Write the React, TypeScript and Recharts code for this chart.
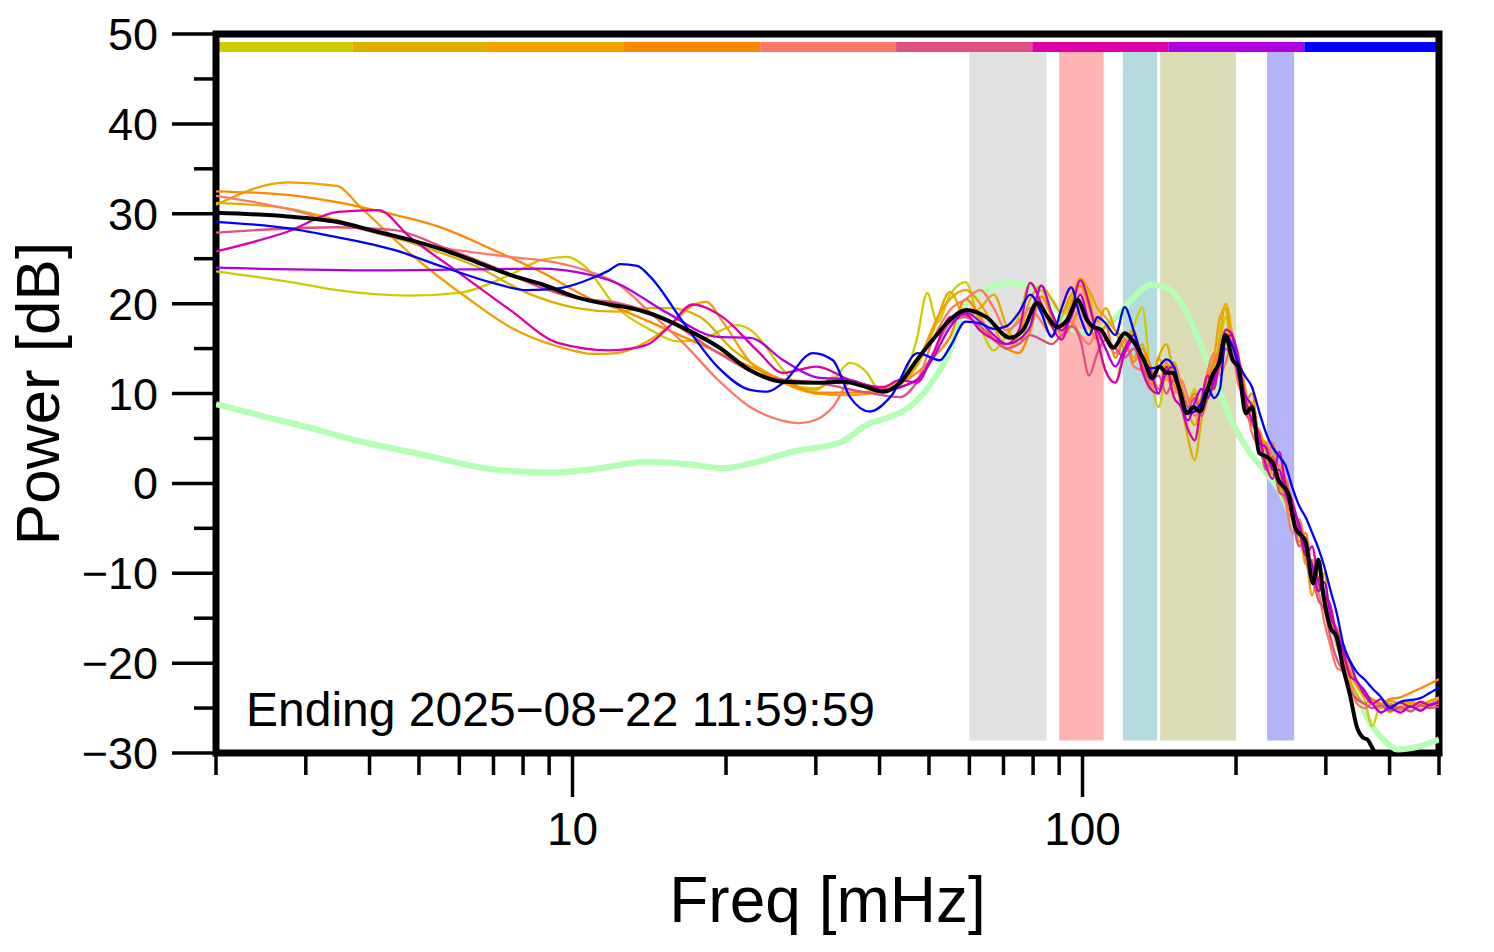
import React from "react";
import { LineChart, Line, XAxis, YAxis, ReferenceArea } from "recharts";

const FONT = '"Liberation Sans", Arial, Helvetica, sans-serif';

// axis ticks
const xTicks = [2, 3, 4, 5, 6, 7, 8, 9, 10, 20, 30, 40, 50, 60, 70, 80, 90, 100, 200, 300, 400, 500];
const xLabelled = [10, 100];
const yTicks = [-30, -25, -20, -15, -10, -5, 0, 5, 10, 15, 20, 25, 30, 35, 40, 45, 50];

// day colour strip along the top
const stripColors = ["#cccc00", "#ddb000", "#f0a000", "#ff8800", "#ff7766", "#dd5080", "#dd00aa", "#b000dd", "#0000ff"];
const stripEdges = [2, 3.7, 6.83, 12.62, 23.33, 43.1, 79.7, 147.3, 272.2, 500];

// shaded frequency bands (mHz)
const bandRanges = [[60, 85], [90, 110], [120, 140], [142, 200], [230, 260]];
const bandColors = ["#e1e1e1", "#ffb4b4", "#b4dcdf", "#dbdbb5", "#b4b4f9"];

// shared frequency grid for the high-frequency part of the daily curves
const hiFreq = [
  55, 59, 63, 67, 71, 75, 79, 83, 87, 91,
  95, 99, 103, 107, 111, 116, 121, 126, 131, 136,
  141, 146, 151, 156, 161, 166, 171, 176, 181, 186,
  191, 196, 202, 208, 215, 222, 229, 236, 243, 250,
  258, 266, 274, 282, 290, 298, 306, 315, 325, 335,
  345, 357, 370, 385, 400, 420, 440, 460, 480, 500,
];

// [freq, dB] below 55 mHz, then values on hiFreq
const oliveLow = [[2, 23.6], [2.8, 22.4], [3.45, 21.5], [4.8, 20.9], [6, 21.2], [7.54, 23.2], [8.76, 24.9], [9.77, 25.2], [10.5, 24.3], [12.2, 19.6], [14.2, 17.1], [16.1, 15.8], [17.8, 16], [21, 17.6], [22.3, 17.1], [25.9, 12.6], [27.9, 10.7], [30.1, 10.6], [32.4, 11.5], [35, 13.4], [37.8, 12.3], [39.6, 10.7], [43.9, 11.5], [47.3, 16], [49.6, 21.2], [51.9, 17.9]];
const oliveHigh = [
  21, 22.4, 17.5, 14.8, 16.5, 18.5, 22.3, 20, 17.5, 18.5,
  20.5, 22.6, 21, 16, 12.5, 11.2, 15.5, 17.5, 19.6, 12,
  8.5, 12.5, 13.5, 11, 9, 10.5, 8, 11.5, 13, 16,
  18.5, 15, 12, 9.5, 9, 5, 4, 1.8, 0.5, -1.5,
  -3, -5, -8, -9, -11.5, -12, -15, -16.5, -19.5, -21,
  -22.5, -24, -27, -24.5, -25.5, -24.8, -25.3, -24.5, -24.8, -24.2,
];

const goldLow = [[2, 31.2], [2.76, 30.6], [3.45, 29.3], [4.8, 26.8], [6.5, 24.1], [8.14, 21.2], [10.2, 19.5], [12.2, 19.1], [14.2, 19.5], [15.5, 19.5], [17.8, 18.5], [20.6, 14.9], [24.1, 12.3], [27.9, 10.6], [30.1, 10.4], [32.4, 11.8], [35, 11.5], [40.6, 10.6], [43.9, 11.2], [47.3, 13], [51, 17]];
const goldHigh = [
  21.3, 18.5, 19.5, 21, 17.5, 15.5, 19, 21.5, 19, 17,
  20, 22.8, 21.5, 19.5, 18.5, 17, 16, 14, 15.5, 11,
  14, 15.5, 12, 9, 5, 2.6, 7, 10, 11, 16.5,
  20, 17, 12.5, 10, 7, 5.5, 2.5, 3.5, 0, -2,
  -2.5, -5, -9, -8.5, -12, -10, -15.5, -17, -19, -21.5,
  -22, -23.5, -24, -25, -24.5, -25, -24.5, -24.8, -24.3, -24,
];

const orangeLow = [[2, 31], [2.77, 33.5], [3.45, 33.1], [3.83, 30.8], [4.8, 25.6], [6.3, 20.4], [7.54, 17.4], [9.4, 15.2], [11, 14.4], [12.2, 14.5], [13.5, 15.3], [15.5, 17.5], [17.2, 19.8], [18.3, 20.2], [19.7, 18], [22.3, 13.5], [25.9, 11.2], [30, 10], [35, 9.8], [40, 10.2], [44, 11], [48, 14], [52, 18.5]];
const orangeHigh = [
  20.5, 21.5, 20, 17.5, 15, 16.5, 20.5, 22, 20.5, 19,
  21, 22, 19.5, 18, 19.5, 17, 15, 17, 13.5, 10.5,
  14, 11.5, 13.5, 11, 8, 6.5, 9.5, 12, 14, 18.5,
  19.5, 15, 14, 11, 6.5, 6, 3.5, 1, 2, -1,
  -4, -4, -7.5, -12.5, -9.5, -13.5, -14.5, -18, -19.5, -22,
  -23.5, -24.5, -24, -25, -24.2, -24.5, -24.3, -24.6, -24.2, -23.8,
];

const darkOrangeLow = [[2, 32.5], [2.76, 32.1], [3.45, 31.3], [4.24, 30.2], [5.57, 28.4], [6.98, 26], [8.76, 23.4], [11, 20.4], [12.2, 19.5], [16.5, 16.3], [22.3, 13], [25.9, 11.5], [30.1, 10.1], [35, 10.1], [40.6, 10.4], [47.3, 12.3], [51, 14]];
const darkOrangeHigh = [
  16.3, 20.5, 18.5, 16, 15, 14.5, 17, 20.8, 18.5, 16.5,
  17.5, 19.5, 17.5, 16, 17.5, 14, 16, 13.5, 15, 13,
  10.5, 13.5, 11, 9.5, 9, 10, 8.5, 11, 13.5, 15,
  17, 16, 14.5, 9, 10, 5, 4.5, 2.5, -0.5, 0.5,
  -3, -6.5, -5.5, -10, -10.5, -12, -15, -16, -18.5, -21,
  -22.5, -23.5, -24, -24.5, -24, -23.8, -23.3, -22.8, -22.3, -21.8,
];

const salmonLow = [[2, 32], [2.83, 30.4], [3.45, 29], [5.57, 26.2], [7.54, 25.2], [9.4, 24.5], [11, 23.4], [12.2, 22.3], [14.2, 19], [16.5, 15.6], [19.3, 11.5], [22.3, 8.5], [25, 7.2], [27.9, 6.7], [30.1, 7.1], [32.4, 8.5], [35, 11.2], [40.6, 10.4], [47.3, 11.5], [50.9, 16]];
const salmonHigh = [
  19.3, 20.5, 21.5, 19.5, 17, 18, 19.5, 18, 16.5, 17.5,
  18, 16.5, 15.5, 17, 16, 14.5, 16, 13, 12.5, 11,
  10.5, 12, 10, 11.5, 9.5, 7.5, 9.5, 12.5, 14.5, 12,
  13.5, 15.5, 11, 9.5, 5.5, 4, 2, 4.5, 1, -2,
  -5.5, -4, -8.5, -11, -12, -15.5, -18, -20.5, -21, -22.5,
  -24.5, -25, -24.5, -25.5, -24.8, -25.2, -24.8, -25.2, -24.6, -24.5,
];

const roseLow = [[2, 27.9], [3.45, 28.5], [4.45, 28.2], [5.57, 26.3], [6.98, 24.1], [8.76, 21.7], [10.2, 20.6], [12.2, 20.1], [15.3, 18.2], [19.3, 14.5], [24.1, 11.8], [30.1, 11.2], [37.8, 10.1], [43.9, 9.6], [47.3, 11.2], [51, 14.5]];
const roseHigh = [
  17.9, 18.5, 17.5, 16, 15, 15.5, 16.5, 16, 15.5, 16.5,
  17.5, 16, 12, 14.5, 16, 15, 14, 15, 13, 11.5,
  12, 10, 11.5, 10.5, 8.5, 9.5, 7.5, 9.5, 11, 13,
  15, 14, 12, 8, 6.7, 5, 1.5, 3, -1, -1.5,
  -4, -7, -6, -10, -13, -14, -17, -19.5, -21, -23,
  -24, -24.5, -25, -24.7, -25.3, -24.9, -25.4, -24.7, -25, -24.8,
];

const magentaLow = [[2, 25.8], [2.76, 28], [3.47, 30.2], [4.16, 30.4], [4.8, 27.4], [6, 23.4], [7.54, 19.3], [9.4, 15.6], [11.8, 14.8], [13, 15], [14.2, 15.6], [15.5, 17.5], [17.2, 19.9], [19.7, 18.5], [23, 14.8], [25.9, 12.3], [30.1, 13], [35, 11.5], [40.6, 10.7], [43.9, 11.5], [47.3, 11.2], [51, 14.5]];
const magentaHigh = [
  18.5, 18.8, 17, 16, 15.5, 17, 22.3, 20, 17.5, 16,
  19, 22.6, 20, 16, 12.5, 11.2, 14.5, 16, 12.5, 10.5,
  10, 13, 9.6, 8.5, 6, 4.8, 9, 12, 10.5, 14.5,
  17.1, 16.7, 12, 9.5, 7, 5.5, 2, 0.5, 3.5, 0,
  -2, -5, -8, -7, -11, -12.5, -13.5, -17, -19, -21.5,
  -22, -23.5, -24.5, -24, -24.8, -24.4, -24.9, -24.3, -24.7, -24.2,
];

const purpleLow = [[2, 24], [4.2, 23.7], [8.76, 23.9], [10.2, 23.5], [12.2, 22.3], [15.3, 19], [19.3, 16.3], [22.3, 16.2], [25.9, 13.7], [30.1, 11.8], [35, 11.5], [40.6, 10.4], [47.3, 11.5], [51, 14]];
const purpleHigh = [
  17.4, 19, 18, 16.5, 15.5, 16, 17.5, 22, 19, 17,
  18.5, 21, 18, 17, 15, 13, 15, 16.5, 14, 12.5,
  10, 12.5, 13, 9, 7, 9, 10.5, 9.5, 11.5, 14,
  16, 16.5, 14, 10, 8.5, 4.5, 4, 1.5, 1.5, -1,
  -3, -4.5, -7.5, -9, -12, -11, -14.5, -16.5, -18.5, -20,
  -22, -23, -24.5, -25.5, -25, -25.5, -24.8, -25.3, -24.6, -24.4,
];

const blueLow = [[2, 29.1], [2.76, 28.4], [3.45, 27.4], [4.45, 26], [5.57, 24.1], [6.98, 22.3], [8.14, 21.5], [9.4, 21.7], [11, 22.9], [11.8, 23.7], [12.4, 24.4], [13.4, 24.2], [14.2, 23], [16.5, 17.9], [19.3, 12.9], [22.3, 10.4], [24.1, 10.2], [25.9, 11.2], [29.6, 14.5], [32.4, 13.7], [35, 9.6], [38.3, 8], [42, 9.6], [47.5, 14.5], [52.5, 13.7]];
const blueHigh = [
  15.2, 18, 17.8, 17.2, 17.5, 19, 21, 19, 16.3, 19.5,
  21.8, 18.5, 16.5, 18.5, 17.8, 16.5, 19.6, 17, 14, 12.8,
  13, 13.8, 13, 10, 7.8, 8, 9, 10.7, 9.5, 10.5,
  16.5, 15.5, 13.4, 12, 10.7, 8, 5.6, 4, 3, 2,
  -0.5, -2.5, -3.8, -5.5, -7.2, -9.3, -11.8, -14.4, -18, -19.8,
  -21, -21.8, -22.8, -23.8, -25, -24.3, -24.1, -23.9, -23.3, -22.7,
];

// mean over the days
const meanCurve = [[2, 30.1], [2.76, 29.7], [3.45, 29.1], [4.14, 28], [4.8, 27.1], [5.57, 26], [6.5, 24.6], [7.54, 23.2], [8.76, 22.1], [10.2, 20.7], [11.8, 19.9], [13, 19.5], [14.2, 18.9], [16.5, 17.3], [19.3, 15.2], [22.3, 12.6], [25.9, 11.3], [30.1, 11.2], [33.9, 11.3], [37.8, 10.7], [40.6, 10.2], [43.9, 11.2], [47.3, 13.7], [50.9, 16], [55, 18.2], [59.2, 19.3], [64.8, 18.5], [72, 16.2], [76.5, 17.1], [81.6, 20.1], [85.5, 18.5], [89.2, 17.4], [93.4, 18.2], [97.8, 20.4], [102, 18.2], [105, 17.4], [108.6, 17.1], [115, 15.1], [121, 16.7], [126.5, 15.6], [132, 13.7], [137, 11.7], [141.5, 13], [146, 12.3], [150, 12.3], [155, 10.4], [160, 7.8], [165, 8.5], [170, 8], [175, 10.1], [180, 12.1], [186, 13.7], [190.5, 16.5], [197, 13.7], [202, 13], [209, 7.8], [215, 8.5], [222, 3.4], [229, 3], [236, 2.3], [242, 0.4], [253, -1.1], [261, -4.8], [274, -6.6], [283, -11.1], [290, -8.5], [297, -12.6], [306, -16], [315, -17.1], [324, -20.4], [335, -23.7], [345, -27.1], [355, -28.3], [362, -28.5], [369, -29.3], [378, -30.4], [400, -32], [450, -34], [500, -34]];

// reference (quiet) spectrum
const refCurve = [[2, 8.8], [2.5, 7.4], [3, 6.3], [3.75, 4.8], [5, 3.3], [6.9, 1.6], [9, 1.2], [11, 1.6], [14, 2.4], [17, 2.1], [19.8, 1.7], [23, 2.4], [26.9, 3.5], [33.6, 4.6], [38, 6.6], [42, 7.4], [46, 8.6], [50, 10.8], [55, 14.8], [59, 19.8], [65, 21.6], [71, 22.3], [80, 21.9], [89, 19.6], [96, 17.1], [102, 16.7], [115, 18.2], [126, 20.7], [136, 22.1], [147, 21.7], [158, 19.6], [170, 15.6], [184, 10.7], [197, 6.7], [213, 3.4], [229, 1.2], [245, -1.1], [266, -6], [287, -10.7], [310, -16.3], [334, -21.1], [361, -26], [389, -28.5], [415, -29.6], [454, -29.3], [500, -28.5]];

type Pt = { f: number; v: number };

const toPts = (pairs: number[][]): Pt[] => pairs.map(([f, v]) => ({ f, v }));
const joinHigh = (low: number[][], high: number[]): Pt[] => [
  ...toPts(low),
  ...hiFreq.map((f, i) => ({ f, v: high[i] })),
];

const days = [
  { id: "d1", color: stripColors[0], data: joinHigh(oliveLow, oliveHigh) },
  { id: "d2", color: stripColors[1], data: joinHigh(goldLow, goldHigh) },
  { id: "d3", color: stripColors[2], data: joinHigh(orangeLow, orangeHigh) },
  { id: "d4", color: stripColors[3], data: joinHigh(darkOrangeLow, darkOrangeHigh) },
  { id: "d5", color: stripColors[4], data: joinHigh(salmonLow, salmonHigh) },
  { id: "d6", color: stripColors[5], data: joinHigh(roseLow, roseHigh) },
  { id: "d7", color: stripColors[6], data: joinHigh(magentaLow, magentaHigh) },
  { id: "d8", color: stripColors[7], data: joinHigh(purpleLow, purpleHigh) },
  { id: "d9", color: stripColors[8], data: joinHigh(blueLow, blueHigh) },
];

const fmtNum = (v: number) => (v < 0 ? `\u2212${Math.abs(v)}` : `${v}`);

function XTick(props: any) {
  const { x, y, payload } = props;
  const major = xLabelled.includes(payload.value);
  return (
    <g>
      <line x1={x} x2={x} y1={y} y2={y + (major ? 44 : 22)} stroke="#000" strokeWidth={3.5} />
      {major && (
        <text x={x} y={y + 92} textAnchor="middle" fontSize={46} fontFamily={FONT} fill="#000">
          {payload.value}
        </text>
      )}
    </g>
  );
}

function YTick(props: any) {
  const { x, y, payload } = props;
  const major = payload.value % 10 === 0;
  return (
    <g>
      <line x1={x - (major ? 44 : 22)} x2={x} y1={y} y2={y} stroke="#000" strokeWidth={3.5} />
      {major && (
        <text x={x - 58} y={y + 16} textAnchor="end" fontSize={45} fontFamily={FONT} fill="#000">
          {fmtNum(payload.value)}
        </text>
      )}
    </g>
  );
}

const xLabel = (props: any) => {
  const vb = props.viewBox;
  return (
    <g fontFamily={FONT} fill="#000">
      <text x={vb.x + vb.width / 2} y={vb.y + 169} textAnchor="middle" fontSize={64}>
        Freq [mHz]
      </text>
      <text x={vb.x + 30} y={vb.y - 27} fontSize={48}>
        Ending 2025{"\u2212"}08{"\u2212"}22 11:59:59
      </text>
    </g>
  );
};

const yLabel = (props: any) => {
  const vb = props.viewBox;
  const cy = vb.y + vb.height / 2;
  return (
    <text
      x={59}
      y={cy}
      transform={`rotate(-90 59 ${cy})`}
      textAnchor="middle"
      fontSize={62}
      fontFamily={FONT}
      fill="#000"
    >
      Power [dB]
    </text>
  );
};

export default function App() {
  return (
    <div style={{ width: 1494, height: 952, background: "#fff" }}>
      <style>{"body{margin:0}"}</style>
      <LineChart width={1494} height={952} margin={{ top: 34, right: 55, bottom: 0, left: 0 }}>
        <XAxis
          dataKey="f"
          type="number"
          scale="log"
          domain={[2, 500]}
          ticks={xTicks}
          interval={0}
          allowDataOverflow
          tick={XTick}
          tickLine={false}
          axisLine={false}
          tickSize={0}
          tickMargin={0}
          height={199}
          label={xLabel}
        />
        <YAxis
          type="number"
          domain={[-30, 50]}
          ticks={yTicks}
          interval={0}
          allowDataOverflow
          tick={YTick}
          tickLine={false}
          axisLine={false}
          tickSize={0}
          tickMargin={0}
          width={216}
          label={yLabel}
        />

        {bandRanges.map(([a, b], i) => (
          <ReferenceArea key={`band${i}`} x1={a} x2={b} y1={-28.6} y2={48} fill={bandColors[i]} fillOpacity={1} stroke="none" />
        ))}
        {stripColors.map((c, i) => (
          <ReferenceArea key={`strip${i}`} x1={stripEdges[i]} x2={stripEdges[i + 1]} y1={48} y2={49.1} fill={c} fillOpacity={1} stroke="none" />
        ))}

        <Line data={toPts(refCurve)} dataKey="v" type="monotone" stroke="#b3ffb3" strokeWidth={6} dot={false} isAnimationActive={false} />
        {days.map((d) => (
          <Line key={d.id} data={d.data} dataKey="v" type="monotone" stroke={d.color} strokeWidth={2.3} dot={false} isAnimationActive={false} />
        ))}
        <Line data={toPts(meanCurve)} dataKey="v" type="monotone" stroke="#000" strokeWidth={4} dot={false} isAnimationActive={false} />

        <ReferenceArea x1={2} x2={500} y1={-30} y2={50} fill="none" stroke="#000" strokeWidth={7} />
      </LineChart>
    </div>
  );
}
